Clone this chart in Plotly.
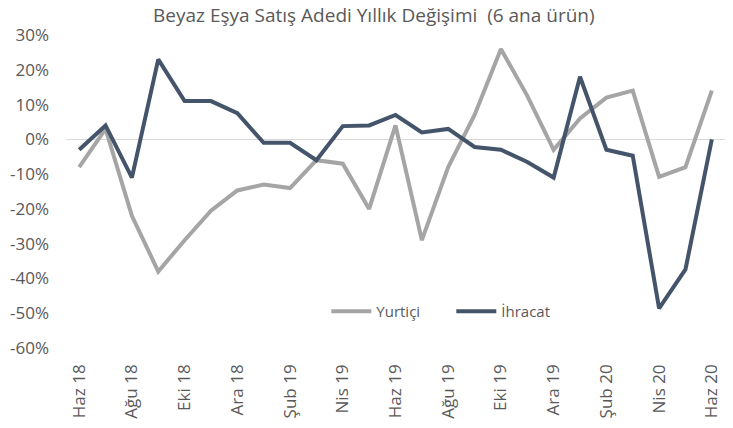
import plotly.graph_objects as go

months = ["Haz 18", "Tem 18", "Ağu 18", "Eyl 18", "Eki 18", "Kas 18", "Ara 18",
          "Oca 19", "Şub 19", "Mar 19", "Nis 19", "May 19", "Haz 19", "Tem 19",
          "Ağu 19", "Eyl 19", "Eki 19", "Kas 19", "Ara 19", "Oca 20", "Şub 20",
          "Mar 20", "Nis 20", "May 20", "Haz 20"]

yurtici = [-8, 3, -22, -38, -29, -20.5, -14.7, -13, -14, -6, -7, -20, 4, -29,
           -8, 7, 26, 12.5, -3, 6, 12, 14, -10.8, -8, 14]
ihracat = [-3, 4, -11, 23, 11, 11, 7.5, -1, -1, -6, 3.8, 4, 7, 2, 3,
           -2.2, -3, -6.5, -11, 18, -3, -4.7, -48.6, -37.4, 0]

tick_months = months[::2]
y_ticks = [30, 20, 10, 0, -10, -20, -30, -40, -50, -60]
y_ticktext = [f"{v}%" for v in y_ticks]

FONT = "Open Sans"
TXT = "#595959"

fig = go.Figure()
fig.add_trace(go.Scatter(x=months, y=yurtici, mode="lines", name="Yurtiçi",
                         line=dict(color="#A5A5A5", width=4)))
fig.add_trace(go.Scatter(x=months, y=ihracat, mode="lines", name="İhracat",
                         line=dict(color="#44546A", width=4)))

fig.update_layout(
    width=733, height=428,
    margin=dict(l=66, r=8, t=35, b=80),
    paper_bgcolor="white", plot_bgcolor="white",
    font=dict(family=FONT, color=TXT),
    title=dict(text="Beyaz Eşya Satış Adedi Yıllık Değişimi  (6 ana ürün)",
               x=0.51, xanchor="center", y=0.965, yanchor="middle",
               font=dict(size=19, color=TXT, family=FONT)),
    showlegend=True,
    legend=dict(orientation="h", x=0.395, y=0.117, xanchor="left", yanchor="middle",
                font=dict(size=15, color=TXT), bgcolor="rgba(0,0,0,0)",
                itemwidth=40, tracegroupgap=0, entrywidth=70, entrywidthmode="pixels"),
)
fig.update_xaxes(
    type="category", range=[-0.5, 24.5], tickvals=tick_months, ticktext=tick_months,
    tickangle=-90, showgrid=False, showline=False, ticks="", ticklabelstandoff=12,
    tickfont=dict(size=17, color=TXT, family=FONT), fixedrange=True,
)
fig.update_yaxes(
    range=[-60, 30], tickvals=y_ticks, ticktext=y_ticktext, showgrid=False,
    zeroline=True, zerolinecolor="#D9D9D9", zerolinewidth=1, ticklabelstandoff=16,
    tickfont=dict(size=17, color=TXT, family=FONT), ticks="", fixedrange=True,
)

fig.write_html("out.html")
